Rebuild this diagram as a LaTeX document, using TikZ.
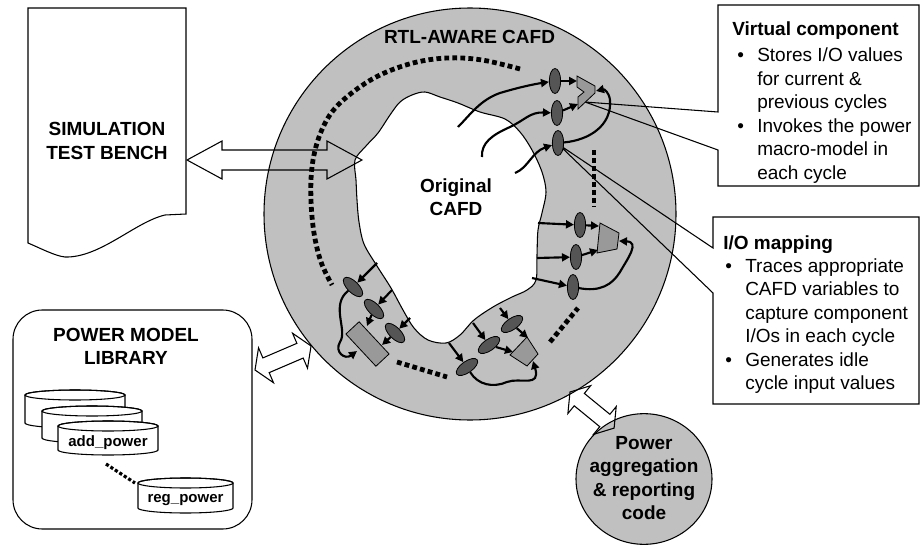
\documentclass[tikz,border=0pt]{standalone}
\usepackage{fontspec}
\setmainfont{Liberation Sans}
\usetikzlibrary{shapes.geometric,arrows.meta}
\definecolor{ringgray}{HTML}{C0C0C0}
\definecolor{opgray}{HTML}{555555}
\definecolor{unitgray}{HTML}{999999}
% two-headed outline block arrow: start, direction, length, head length, head half width, shaft half width (px)
\newcommand{\dblblock}[6]{%
  \begin{scope}[shift={(#1)},rotate=#2]
    \draw[outline,line join=miter] (0,0) -- (#4,#5) -- (#4,#6) -- ({#3-#4},#6) -- ({#3-#4},#5) -- (#3,0)
      -- ({#3-#4},-#5) -- ({#3-#4},-#6) -- (#4,-#6) -- (#4,-#5) -- cycle;
  \end{scope}}
% database drum: centre x, top y, bottom y, half width
\newcommand{\drum}[4]{%
  \filldraw[outline,fill=white] ({#1-#4},#2) -- ({#1-#4},{#3-5}) arc[start angle=180,end angle=0,x radius=#4,y radius=5]
    -- ({#1+#4},#2) arc[start angle=0,end angle=-180,x radius=#4,y radius=5] -- cycle;
  \draw[outline] (#1,#2) ellipse[x radius=#4,y radius=5];}
\newcommand{\vitem}{\makebox[18.75pt][l]{\hspace{3.75pt}•}}
\newcommand{\vcont}{\makebox[18.75pt]{}}
\newcommand{\mitem}{\makebox[16.5pt][l]{\hspace{1.5pt}•}}
\newcommand{\mcont}{\makebox[16.5pt]{}}
\begin{document}
\begin{tikzpicture}[x=0.75pt,y=-0.75pt,
  outline/.style={draw=black,line width=0.8pt},
  op/.style={ellipse,draw=black,line width=0.6pt,fill=opgray,minimum width=8.5pt,minimum height=18.75pt,inner sep=0pt},
  unit/.style={draw=black,line width=0.6pt,fill=unitgray},
  flow/.style={line width=1.6pt,-{Triangle[length=6pt,width=6pt]}},
  ellipsis/.style={line width=3.6pt,dash pattern=on 3.6pt off 2.4pt},
  heading/.style={font=\bfseries\fontsize{14.25}{17.5}\selectfont,align=center,inner sep=0pt},
  note/.style={font=\fontsize{14.25}{17.6}\selectfont,align=left,inner sep=0pt,anchor=north west},
  dbname/.style={font=\bfseries\fontsize{11.25}{13}\selectfont,inner sep=0pt}]

\useasboundingbox (0,0) rectangle (922,546);

% ---------- simulation test bench (document shape) ----------
\draw[outline,fill=white] (28,8) -- (186,8) -- (186,214) -- (165,215)
  .. controls (135,222) and (100,258) .. (65,257)
  .. controls (55,256) and (40,248) .. (28,243) -- cycle;
\node[heading] (bench) at (107,141) {SIMULATION\\TEST BENCH};

% ---------- RTL-aware CAFD ring ----------
\node[circle,outline,fill=ringgray,minimum size=309pt,inner sep=0pt] (ring) at (470,214) {};
\filldraw[outline,fill=white] plot[smooth cycle,tension=0.55] coordinates {
  (355,160) (366,146) (378,133) (390,115) (400,102) (412,95) (425,92) (440,97)
  (458,103) (480,112) (505,119) (520,132) (532,150) (542,172) (546,192) (542,213)
  (538,230) (537,255) (536,280) (527,290) (512,297) (493,307) (474,320) (460,335)
  (446,343) (428,340) (414,328) (403,310) (391,288) (377,266) (364,244) (359,222)
  (357,200) (356,180)};
\node[heading] (ringname) at (469.5,37) {RTL-AWARE CAFD};
\node[heading] (orig) at (456,197) {Original\\CAFD};

% ---------- "more components" dotted runs ----------
\draw[ellipsis] plot[smooth,tension=0.6] coordinates {
  (520,69) (482,60) (447,58) (413,63) (380,75) (353,92) (332,112) (319,137)
  (312,167) (311,200) (314,233) (321,262) (332,285)};
\draw[ellipsis] (397,362) -- (447,377);
\draw[ellipsis] (550,342) -- (578,308);
\draw[ellipsis] (594,150) -- (594,207);

% ---------- callout boxes ----------
\coordinate (aluAtip) at (585,102);
\coordinate (a3hub) at (558,144);
\draw[outline,line join=miter] (718,5) -- (919,5) -- (919,186) -- (718,186) -- (718,150)
  -- (aluAtip) -- (718,112) -- cycle;
\draw[outline,line join=miter] (713,217) -- (919,217) -- (919,404) -- (713,404) -- (713,293)
  -- (a3hub) -- (713,248) -- cycle;
\node[note] (vcnote) at (732,21) {\textbf{Virtual component}\\[2.6pt]
  \vitem Stores I/O values\\
  \vcont for current \&\\
  \vcont previous cycles\\
  \vitem Invokes the power\\
  \vcont macro-model in\\
  \vcont each cycle};
\node[note] (ionote) at (723,235) {\textbf{I/O mapping}\\
  \mitem Traces appropriate\\
  \mcont CAFD variables to\\
  \mcont capture component\\
  \mcont I/Os in each cycle\\
  \mitem Generates idle\\
  \mcont cycle input values};

% ---------- upper component group ----------
\filldraw[unit] (577,76) -- (595,86) -- (595,93) -- (578,109) -- (578,97) -- (584,92) -- (577,87) -- cycle;
\coordinate (aIn1) at (577,81);
\coordinate (aIn2) at (578,104);
\coordinate (aFb) at (596,91);
\node[op] (a1) at (555,81) {};
\node[op] (a2) at (557,113) {};
\node[op] (a3) at (558,143) {};
\coordinate (a1src) at (458,127);
\coordinate (a2src) at (482,157);
\coordinate (a3src) at (515,173);
\draw[flow] (a1src) .. controls (470,115) and (480,100) .. (500,93) .. controls (520,87) and (535,84) .. (a1);
\draw[flow] (a2src) .. controls (481,143) and (492,135) .. (510,127) .. controls (525,120) and (530,112) .. (a2);
\draw[flow] (a3src) .. controls (528,168) and (532,152) .. (a3);
\draw[flow] (a1) -- (aIn1);
\draw[flow] (a2) -- (aIn2);
\draw[flow] (a3) .. controls (590,140) and (612,125) .. (610,100) .. controls (609,92) and (604,89) .. (aFb);

% ---------- right component group ----------
\filldraw[unit] (600,223) -- (619,233) -- (617,249) -- (597,253) -- cycle;
\coordinate (bIn1) at (599,226);
\coordinate (bIn2) at (598,250);
\coordinate (bFb) at (619,241);
\node[op] (b1) at (580,225) {};
\node[op] (b2) at (576,257) {};
\node[op] (b3) at (573,287) {};
\coordinate (b1src) at (538,223);
\coordinate (b2src) at (537,258);
\coordinate (b3src) at (532,278);
\draw[flow] (b1src) -- (b1);
\draw[flow] (b2src) -- (b2);
\draw[flow] (b3src) -- (b3);
\draw[flow] (b1) -- (bIn1);
\draw[flow] (b2) -- (bIn2);
\draw[flow] (b3) .. controls (600,292) and (612,285) .. (620,272) .. controls (628,258) and (640,242) .. (bFb);

% ---------- lower component group ----------
\filldraw[unit] (527,337) -- (538,354) -- (527,366) -- (510,355) -- cycle;
\coordinate (cIn1) at (528,338);
\coordinate (cIn2) at (513,352);
\coordinate (cFb) at (533,361);
\node[op,rotate=-55] (c1) at (512,324) {};
\node[op,rotate=-55] (c2) at (489,345) {};
\node[op,rotate=-55] (c3) at (467,367) {};
\coordinate (c1src) at (500,308);
\coordinate (c2src) at (473,323);
\coordinate (c3src) at (449,343);
\draw[flow] (c1src) -- (c1);
\draw[flow] (c2src) -- (c2);
\draw[flow] (c3src) -- (c3);
\draw[flow] (c1) -- (cIn1);
\draw[flow] (c2) -- (cIn2);
\draw[flow] (c3) .. controls (478,385) and (493,388) .. (507,382) .. controls (520,377) and (541,388) .. (cFb);

% ---------- lower-left component group ----------
\node[unit,minimum width=33pt,minimum height=13.5pt,inner sep=0pt,rotate=-47] (drect) at (367.5,344) {};
\coordinate (dIn1) at (357,351);
\coordinate (dIn2) at (367,326);
\coordinate (dIn3) at (382,345);
\node[op,rotate=45] (d1) at (353,287) {};
\node[op,rotate=45] (d2) at (374,309) {};
\node[op,rotate=45] (d3) at (395,333) {};
\coordinate (d1src) at (377,263);
\coordinate (d2src) at (392,290);
\coordinate (d3src) at (410,318);
\draw[flow] (d1src) -- (d1);
\draw[flow] (d2src) -- (d2);
\draw[flow] (d3src) -- (d3);
\draw[flow] (d2) -- (dIn2);
\draw[flow] (d3) -- (dIn3);
\draw[flow] (d1) .. controls (330,305) and (348,330) .. (340,342) .. controls (334,352) and (345,360) .. (dIn1);

% ---------- power model library ----------
\draw[outline,rounded corners=22pt] (13,310) rectangle (252,529);
\node[heading] (libname) at (126,346.5) {POWER MODEL\\LIBRARY};
\drum{75}{395}{428}{50}
\drum{92}{411}{443}{50}
\drum{108}{426}{455}{50}
\node[dbname] (addp) at (108,443) {add\_power};
\drum{185.5}{483}{513}{47.5}
\node[dbname] (regp) at (185.5,500) {reg\_power};
\coordinate (addEnd) at (106,464);
\coordinate (regEnd) at (135,483);
\draw[line width=2.4pt,dash pattern=on 2.4pt off 1.6pt] (addEnd) -- (regEnd);

% ---------- power aggregation ----------
\node[ellipse,outline,fill=ringgray,minimum width=102pt,minimum height=98pt,inner sep=0pt] (agg) at (644,479) {};
\node[heading] (aggtext) at (644,478) {Power\\aggregation\\\& reporting\\code};

% ---------- two-way block arrows ----------
\coordinate (benchPort) at (187,160);
\coordinate (libPort) at (255,370);
\coordinate (ringPortA) at (570,392);
\dblblock{benchPort}{0}{175}{35}{19}{10}
\dblblock{libPort}{23.2}{61}{12}{19}{8}
\dblblock{ringPortA}{-39.3}{57}{12}{18}{8}
\end{tikzpicture}
\end{document}
